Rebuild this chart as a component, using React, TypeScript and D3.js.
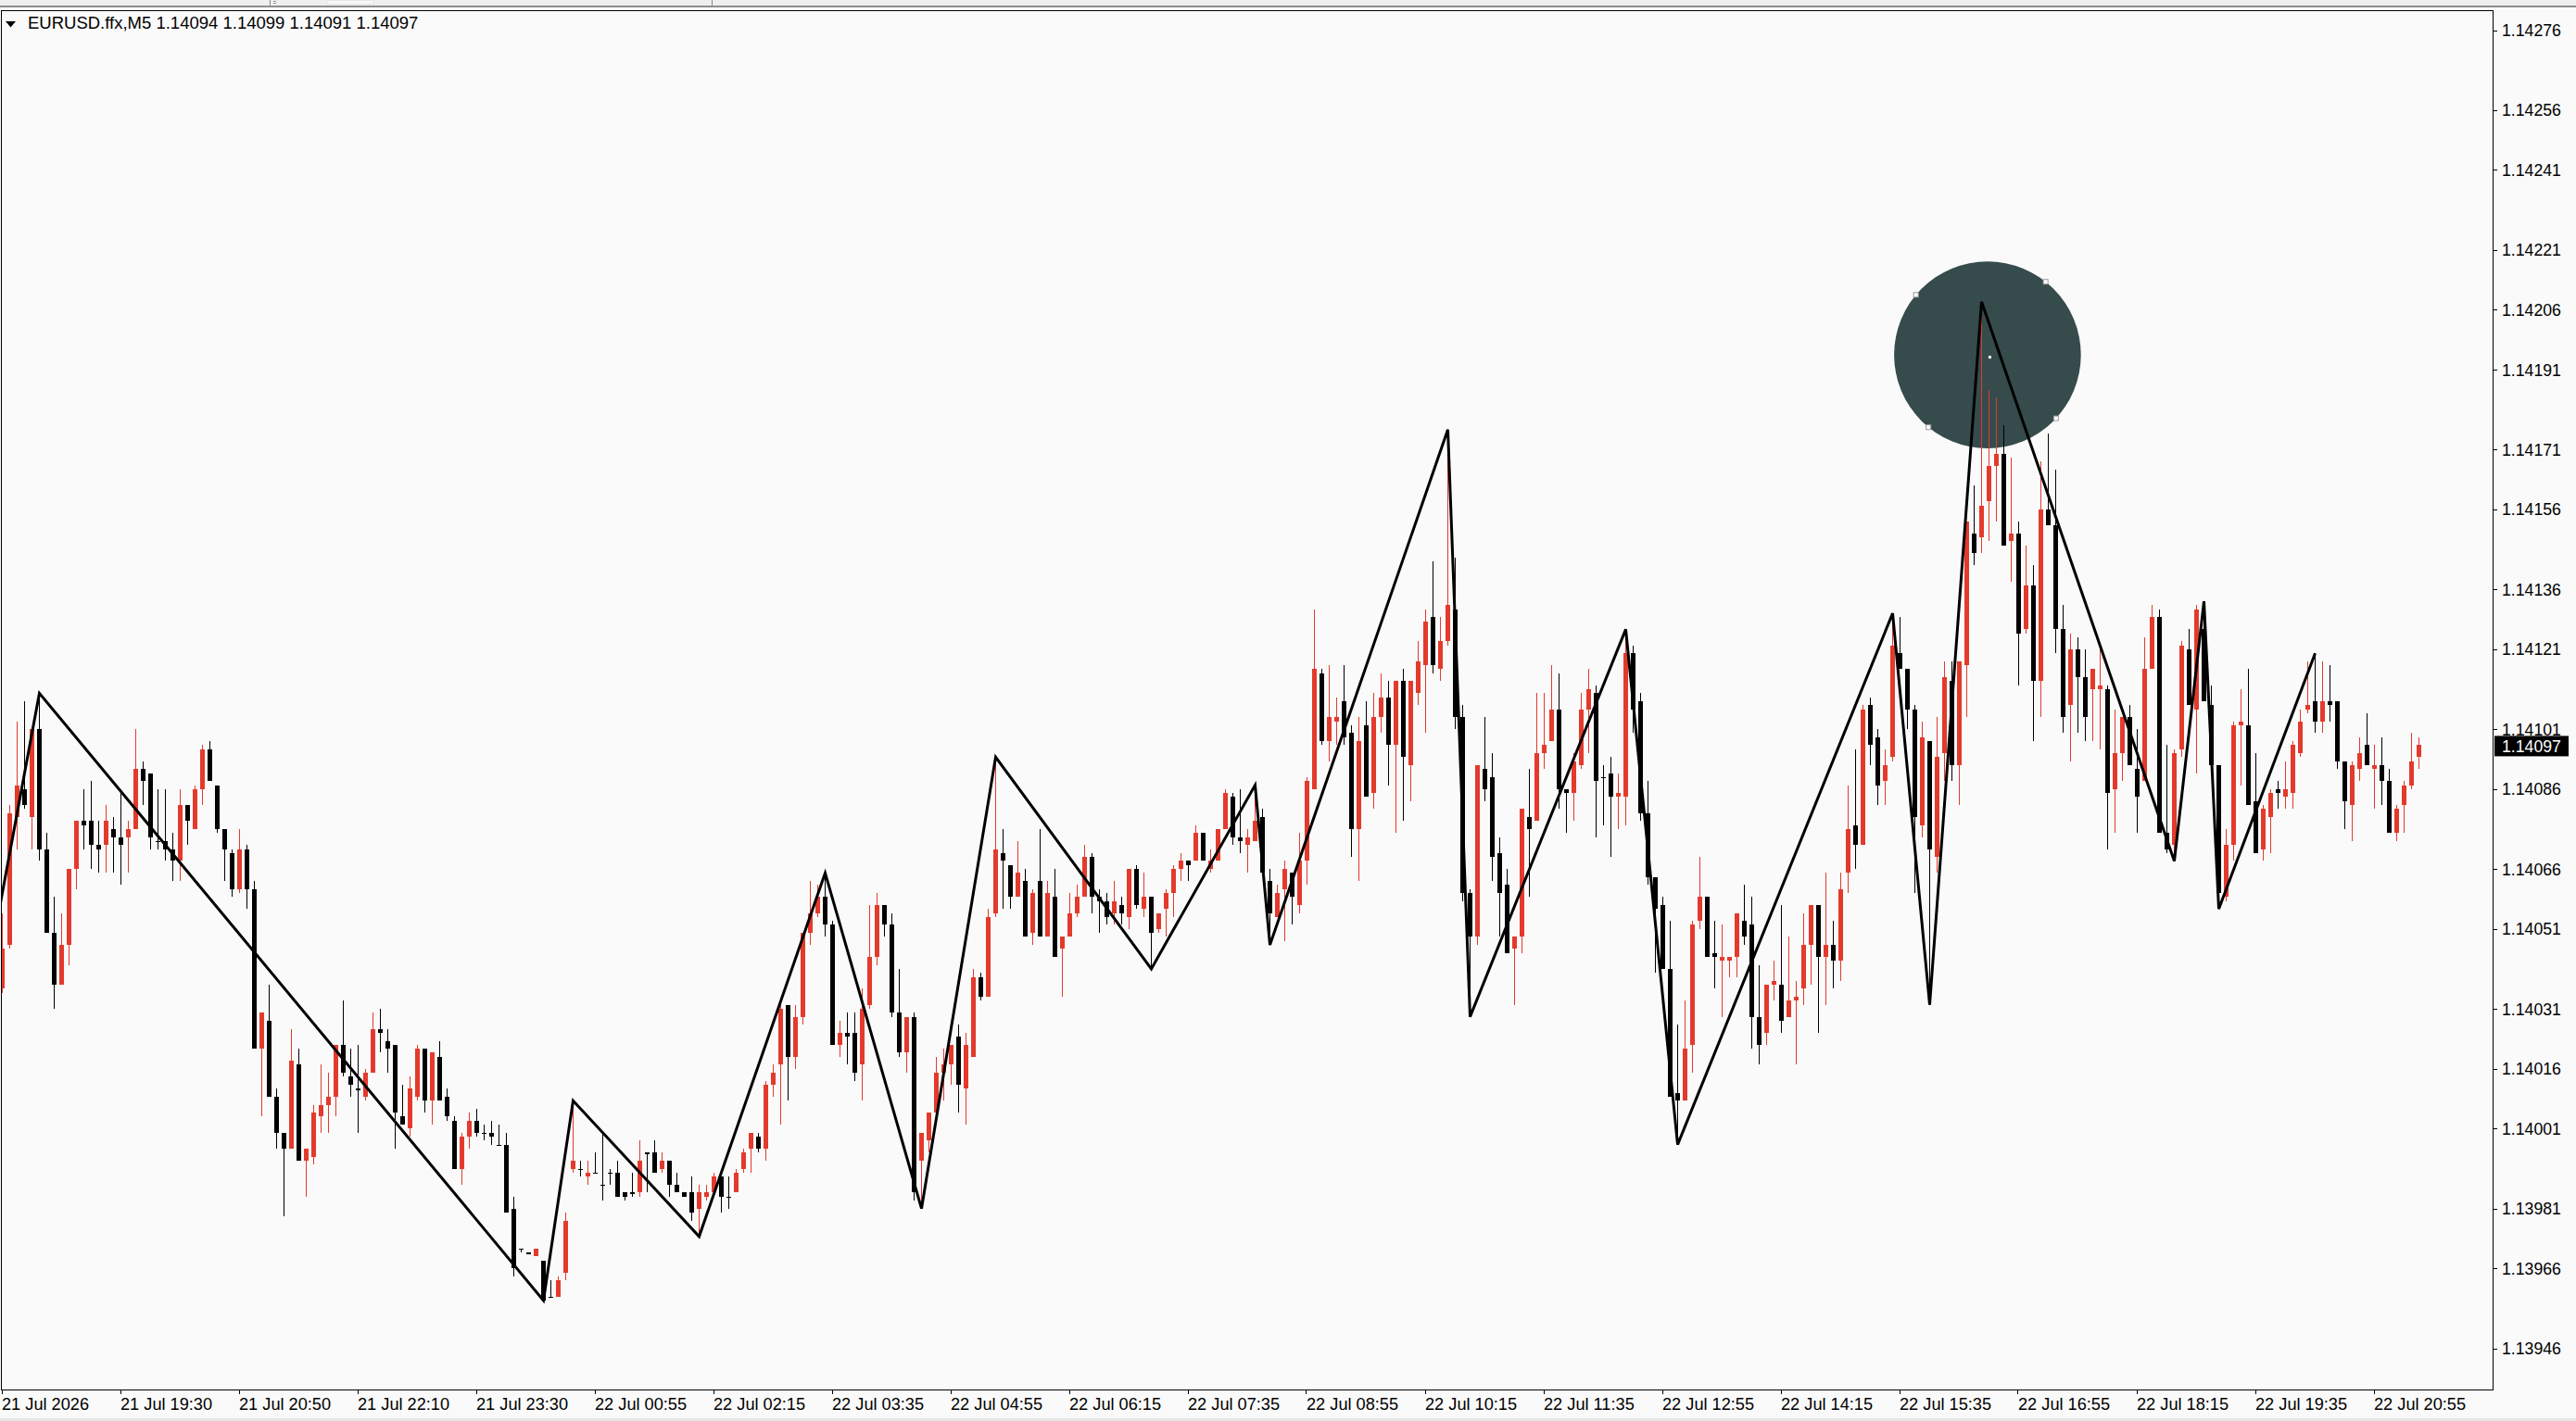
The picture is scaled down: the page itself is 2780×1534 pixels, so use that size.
import React, { useEffect } from "react";
import * as d3 from "d3";

// ---------- DATA ----------
const SYMBOL_TITLE = "EURUSD.ffx,M5  1.14094 1.14099 1.14091 1.14097";
const LAST_PRICE = 1.14097;

const OPEN = [
  1.14036,1.14047,1.14079,1.14086,1.14079,1.14101,1.14071,1.14050,1.14037,1.14047,
  1.14066,1.14078,1.14078,1.14072,1.14072,1.14076,1.14074,1.14074,1.14076,1.14091,
  1.14090,1.14073,1.14073,1.14071,1.14068,1.14082,1.14076,1.14086,1.14096,1.14087,
  1.14076,1.14070,1.14061,1.14071,1.14061,1.14021,1.14028,1.14009,1.14000,1.13996,
  1.14017,1.13993,1.13994,1.14004,1.14007,1.14009,1.14022,1.14014,1.14011,1.14009,
  1.14015,1.14026,1.14023,1.14022,1.14004,1.14001,1.14009,1.14021,1.14008,1.14019,
  1.14009,1.14003,1.13991,1.13999,1.14003,1.14000,1.14000,1.13997,1.13997,1.13981,
  1.13971,1.13970,1.13969,1.13968,1.13959,1.13959,1.13965,1.13991,1.13991,1.13989,
  1.13990,1.13987,1.13990,1.13990,1.13985,1.13985,1.13985,1.13995,1.13995,1.13991,
  1.13993,1.13987,1.13985,1.13985,1.13981,1.13984,1.13985,1.13989,1.13984,1.13985,
  1.13991,1.13996,1.13999,1.13996,1.14012,1.14017,1.14032,1.14019,1.14029,1.14050,
  1.14055,1.14059,1.14052,1.14022,1.14025,1.14025,1.14017,1.14032,1.14044,1.14057,
  1.14052,1.14030,1.14020,1.14029,1.13993,1.13998,1.14005,1.14015,1.14017,1.14024,
  1.14011,1.14019,1.14039,1.14034,1.14055,1.14070,1.14067,1.14059,1.14063,1.14050,
  1.14063,1.14049,1.14059,1.14046,1.14049,1.14055,1.14059,1.14069,1.14059,1.14058,
  1.14055,1.14057,1.14054,1.14066,1.14056,1.14059,1.14051,1.14056,1.14060,1.14066,
  1.14068,1.14068,1.14075,1.14066,1.14068,1.14076,1.14084,1.14074,1.14072,1.14073,
  1.14079,1.14063,1.14054,1.14061,1.14065,1.14057,1.14068,1.14086,1.14115,1.14098,
  1.14103,1.14108,1.14100,1.14076,1.14102,1.14085,1.14104,1.14109,1.14097,1.14113,
  1.14092,1.14110,1.14117,1.14129,1.14116,1.14123,1.14131,1.14104,1.14060,1.14049,
  1.14091,1.14089,1.14070,1.14062,1.14046,1.14049,1.14079,1.14078,1.14095,1.14098,
  1.14106,1.14086,1.14085,1.14092,1.14106,1.14110,1.14089,1.14090,1.14084,1.14084,
  1.14120,1.14108,1.14080,1.14064,1.14057,1.14041,1.14010,1.14008,1.14022,1.14053,
  1.14059,1.14045,1.14043,1.14043,1.14044,1.14053,1.14052,1.14029,1.14025,1.14037,
  1.14037,1.14029,1.14033,1.14036,1.14047,1.14057,1.14044,1.14047,1.14043,1.14065,
  1.14077,1.14072,1.14107,1.14099,1.14088,1.14094,1.14120,1.14116,1.14106,1.14077,
  1.14098,1.14069,1.14095,1.14113,1.14092,1.14117,1.14150,1.14149,1.14158,1.14167,
  1.14170,1.14148,1.14150,1.14126,1.14137,1.14113,1.14156,1.14152,1.14126,1.14107,
  1.14121,1.14114,1.14111,1.14111,1.14111,1.14086,1.14095,1.14104,1.14091,1.14088,
  1.14116,1.14129,1.14075,1.14072,1.14096,1.14121,1.14106,1.14126,1.14107,1.14092,
  1.14059,1.14072,1.14102,1.14102,1.14083,1.14071,1.14079,1.14086,1.14084,1.14085,
  1.14095,1.14106,1.14108,1.14103,1.14108,1.14108,1.14093,1.14082,1.14091,1.14097,
  1.14091,1.14092,1.14088,1.14075,1.14082,1.14087,1.14094,
];

const HIGH = [
  1.14055,1.14082,1.14103,1.14108,1.14101,1.14110,1.14075,1.14059,1.14055,1.14066,
  1.14078,1.14086,1.14088,1.14078,1.14082,1.14079,1.14086,1.14078,1.14101,1.14093,
  1.14090,1.14086,1.14086,1.14075,1.14086,1.14082,1.14087,1.14097,1.14098,1.14087,
  1.14076,1.14071,1.14076,1.14072,1.14063,1.14030,1.14037,1.14011,1.14000,1.14026,
  1.14021,1.13996,1.14007,1.14017,1.14015,1.14022,1.14033,1.14021,1.14022,1.14016,
  1.14030,1.14031,1.14026,1.14022,1.14012,1.14014,1.14022,1.14021,1.14020,1.14023,
  1.14011,1.14004,1.14000,1.14005,1.14006,1.14002,1.14003,1.14002,1.14000,1.13984,
  1.13971,1.13970,1.13971,1.13968,1.13963,1.13964,1.13980,1.14008,1.13993,1.13993,
  1.13995,1.14000,1.13991,1.13993,1.13985,1.13990,1.13998,1.13995,1.13998,1.13995,
  1.13993,1.13990,1.13985,1.13989,1.13987,1.13987,1.13990,1.13989,1.13989,1.13991,
  1.13996,1.14000,1.14000,1.14013,1.14017,1.14032,1.14032,1.14032,1.14050,1.14063,
  1.14062,1.14065,1.14053,1.14028,1.14030,1.14030,1.14036,1.14057,1.14060,1.14057,
  1.14055,1.14041,1.14029,1.14030,1.14000,1.14005,1.14019,1.14021,1.14022,1.14027,
  1.14025,1.14041,1.14040,1.14056,1.14094,1.14076,1.14067,1.14073,1.14066,1.14061,
  1.14076,1.14063,1.14066,1.14049,1.14060,1.14062,1.14072,1.14070,1.14061,1.14060,
  1.14063,1.14059,1.14066,1.14067,1.14065,1.14059,1.14055,1.14061,1.14067,1.14070,
  1.14068,1.14077,1.14075,1.14071,1.14076,1.14086,1.14085,1.14086,1.14076,1.14087,
  1.14081,1.14066,1.14062,1.14068,1.14065,1.14075,1.14089,1.14131,1.14116,1.14117,
  1.14109,1.14117,1.14102,1.14104,1.14108,1.14110,1.14115,1.14113,1.14113,1.14116,
  1.14113,1.14123,1.14131,1.14143,1.14129,1.14176,1.14144,1.14107,1.14061,1.14092,
  1.14104,1.14095,1.14074,1.14066,1.14049,1.14081,1.14091,1.14110,1.14110,1.14117,
  1.14115,1.14086,1.14095,1.14110,1.14116,1.14112,1.14092,1.14094,1.14090,1.14126,
  1.14122,1.14110,1.14088,1.14064,1.14059,1.14053,1.14027,1.14033,1.14053,1.14069,
  1.14059,1.14053,1.14052,1.14044,1.14055,1.14062,1.14059,1.14042,1.14037,1.14043,
  1.14057,1.14049,1.14038,1.14055,1.14057,1.14057,1.14065,1.14053,1.14065,1.14087,
  1.14096,1.14107,1.14109,1.14101,1.14096,1.14130,1.14129,1.14116,1.14107,1.14103,
  1.14098,1.14104,1.14118,1.14118,1.14118,1.14153,1.14162,1.14208,1.14186,1.14184,
  1.14177,1.14169,1.14153,1.14147,1.14142,1.14168,1.14175,1.14166,1.14132,1.14125,
  1.14124,1.14121,1.14116,1.14121,1.14112,1.14106,1.14104,1.14107,1.14101,1.14124,
  1.14132,1.14131,1.14097,1.14096,1.14123,1.14126,1.14132,1.14133,1.14112,1.14092,
  1.14076,1.14103,1.14111,1.14116,1.14095,1.14082,1.14086,1.14088,1.14093,1.14098,
  1.14106,1.14118,1.14120,1.14118,1.14117,1.14108,1.14093,1.14093,1.14099,1.14105,
  1.14097,1.14099,1.14091,1.14082,1.14088,1.14100,1.14099,
];

const LOW = [
  1.14035,1.14046,1.14071,1.14081,1.14071,1.14068,1.14050,1.14031,1.14037,1.14042,
  1.14061,1.14071,1.14066,1.14065,1.14065,1.14065,1.14062,1.14065,1.14076,1.14082,
  1.14071,1.14071,1.14068,1.14063,1.14063,1.14072,1.14076,1.14082,1.14088,1.14075,
  1.14063,1.14059,1.14060,1.14056,1.14021,1.14004,1.14009,1.13996,1.13979,1.13996,
  1.13993,1.13984,1.13992,1.14000,1.14000,1.14004,1.14014,1.14009,1.14000,1.14008,
  1.14015,1.14020,1.14015,1.13996,1.14002,1.13999,1.14008,1.14005,1.14002,1.14008,
  1.14003,1.13991,1.13987,1.13996,1.13999,1.13998,1.13997,1.13997,1.13980,1.13964,
  1.13970,1.13970,1.13969,1.13958,1.13959,1.13959,1.13963,1.13990,1.13989,1.13987,
  1.13990,1.13983,1.13987,1.13984,1.13983,1.13984,1.13984,1.13985,1.13990,1.13990,
  1.13984,1.13985,1.13984,1.13978,1.13974,1.13983,1.13985,1.13980,1.13981,1.13985,
  1.13990,1.13990,1.13995,1.13993,1.14009,1.14002,1.14008,1.14016,1.14027,1.14047,
  1.14054,1.14049,1.14022,1.14019,1.14017,1.14013,1.14008,1.14031,1.14042,1.14049,
  1.14029,1.14019,1.14015,1.13983,1.13981,1.13995,1.14005,1.14008,1.14012,1.14005,
  1.14002,1.14019,1.14033,1.14034,1.14054,1.14056,1.14056,1.14059,1.14049,1.14047,
  1.14049,1.14049,1.14044,1.14034,1.14049,1.14054,1.14059,1.14055,1.14050,1.14052,
  1.14052,1.14052,1.14051,1.14056,1.14054,1.14041,1.14050,1.14049,1.14054,1.14063,
  1.14063,1.14068,1.14068,1.14065,1.14068,1.14076,1.14072,1.14070,1.14065,1.14073,
  1.14065,1.14047,1.14054,1.14048,1.14052,1.14055,1.14062,1.14086,1.14097,1.14093,
  1.14097,1.14097,1.14069,1.14063,1.14084,1.14081,1.14100,1.14087,1.14075,1.14078,
  1.14083,1.14107,1.14100,1.14115,1.14113,1.14122,1.14101,1.14058,1.14029,1.14047,
  1.14083,1.14063,1.14049,1.14045,1.14032,1.14045,1.14059,1.14078,1.14091,1.14098,
  1.14081,1.14075,1.14078,1.14091,1.14095,1.14074,1.14077,1.14069,1.14076,1.14077,
  1.14100,1.14078,1.14062,1.14040,1.14041,1.14009,1.13997,1.14008,1.14015,1.14051,
  1.14044,1.14036,1.14029,1.14039,1.14039,1.14047,1.14021,1.14017,1.14022,1.14033,
  1.14025,1.14029,1.14017,1.14032,1.14037,1.14025,1.14032,1.14036,1.14038,1.14060,
  1.14066,1.14072,1.14092,1.14082,1.14082,1.14093,1.14116,1.14101,1.14060,1.14074,
  1.14032,1.14065,1.14088,1.14088,1.14082,1.14104,1.14142,1.14145,1.14148,1.14153,
  1.14147,1.14138,1.14112,1.14125,1.14098,1.14104,1.14152,1.14120,1.14100,1.14093,
  1.14100,1.14098,1.14098,1.14096,1.14071,1.14075,1.14088,1.14092,1.14075,1.14088,
  1.14116,1.14075,1.14070,1.14068,1.14094,1.14107,1.14090,1.14108,1.14092,1.14056,
  1.14058,1.14068,1.14087,1.14082,1.14070,1.14068,1.14070,1.14081,1.14081,1.14081,
  1.14094,1.14105,1.14100,1.14100,1.14103,1.14091,1.14076,1.14073,1.14088,1.14092,
  1.14081,1.14082,1.14075,1.14073,1.14075,1.14086,1.14091,
];

const CLOSE = [
  1.14046,1.14080,1.14087,1.14082,1.14101,1.14071,1.14050,1.14037,1.14047,1.14066,
  1.14078,1.14077,1.14072,1.14071,1.14078,1.14074,1.14072,1.14076,1.14091,1.14088,
  1.14074,1.14073,1.14071,1.14068,1.14082,1.14078,1.14086,1.14096,1.14088,1.14076,
  1.14071,1.14061,1.14071,1.14061,1.14021,1.14030,1.14009,1.14000,1.13996,1.14018,
  1.13993,1.13996,1.14005,1.14007,1.14009,1.14022,1.14015,1.14012,1.14011,1.14015,
  1.14026,1.14025,1.14021,1.14005,1.14002,1.14011,1.14021,1.14008,1.14020,1.14008,
  1.14004,1.13991,1.13999,1.14003,1.14000,1.14000,1.13999,1.13997,1.13980,1.13966,
  1.13971,1.13970,1.13971,1.13958,1.13959,1.13963,1.13978,1.13993,1.13991,1.13990,
  1.13990,1.13987,1.13990,1.13984,1.13984,1.13985,1.13993,1.13995,1.13990,1.13993,
  1.13987,1.13985,1.13984,1.13980,1.13985,1.13985,1.13989,1.13984,1.13984,1.13990,
  1.13995,1.14000,1.13996,1.14012,1.14015,1.14031,1.14019,1.14029,1.14050,1.14055,
  1.14059,1.14052,1.14022,1.14025,1.14024,1.14015,1.14031,1.14044,1.14057,1.14052,
  1.14030,1.14020,1.14029,1.13985,1.14000,1.14005,1.14015,1.14017,1.14022,1.14012,
  1.14022,1.14039,1.14034,1.14054,1.14071,1.14068,1.14059,1.14065,1.14049,1.14060,
  1.14049,1.14060,1.14044,1.14049,1.14055,1.14059,1.14069,1.14059,1.14058,1.14054,
  1.14058,1.14055,1.14066,1.14057,1.14059,1.14050,1.14055,1.14060,1.14066,1.14068,
  1.14067,1.14075,1.14068,1.14068,1.14076,1.14085,1.14074,1.14073,1.14074,1.14078,
  1.14065,1.14055,1.14060,1.14066,1.14059,1.14068,1.14088,1.14116,1.14098,1.14104,
  1.14104,1.14099,1.14076,1.14098,1.14084,1.14104,1.14109,1.14097,1.14113,1.14094,
  1.14113,1.14118,1.14128,1.14117,1.14123,1.14132,1.14104,1.14060,1.14049,1.14092,
  1.14086,1.14069,1.14060,1.14045,1.14049,1.14081,1.14076,1.14095,1.14097,1.14106,
  1.14086,1.14085,1.14093,1.14106,1.14111,1.14088,1.14089,1.14084,1.14085,1.14120,
  1.14106,1.14080,1.14064,1.14056,1.14041,1.14009,1.14008,1.14021,1.14052,1.14059,
  1.14044,1.14044,1.14044,1.14044,1.14055,1.14049,1.14029,1.14022,1.14037,1.14038,
  1.14028,1.14033,1.14034,1.14047,1.14057,1.14044,1.14047,1.14043,1.14061,1.14076,
  1.14072,1.14106,1.14097,1.14087,1.14092,1.14122,1.14116,1.14106,1.14079,1.14099,
  1.14071,1.14094,1.14114,1.14092,1.14118,1.14153,1.14145,1.14157,1.14167,1.14170,
  1.14147,1.14150,1.14125,1.14137,1.14113,1.14156,1.14152,1.14126,1.14104,1.14121,
  1.14114,1.14104,1.14116,1.14112,1.14085,1.14095,1.14104,1.14092,1.14084,1.14116,
  1.14129,1.14075,1.14071,1.14095,1.14122,1.14107,1.14131,1.14108,1.14092,1.14060,
  1.14072,1.14102,1.14103,1.14082,1.14070,1.14081,1.14085,1.14085,1.14086,1.14097,
  1.14103,1.14107,1.14103,1.14108,1.14107,1.14093,1.14083,1.14092,1.14095,1.14092,
  1.14092,1.14088,1.14075,1.14081,1.14087,1.14093,1.14097,
];

// ZigZag vertices (bar index, price)
const ZZ_BARS = [-3, 5, 73, 77, 94, 111, 124, 134, 155, 169, 171, 195, 198, 219, 226, 255, 260, 267, 293, 297, 299, 312];
const ZZ_PRICES = [
  1.14030, 1.14110, 1.13958, 1.14008, 1.13974, 1.14065, 1.13981, 1.14094, 1.14041, 1.14087, 1.14047,
  1.14176, 1.14029, 1.14126, 1.13997, 1.14130, 1.14032, 1.14208, 1.14068, 1.14133, 1.14056, 1.14120,
];

// Ellipse object (centre in bar/price, handles as angles in degrees)
const CIRCLE_BAR = 267.8;
const CIRCLE_PRICE = 1.141947;
const CIRCLE_RADIUS_BARS = 12.6;
const CIRCLE_HANDLE_ANGLES = [-140, -51.5, 42.8, 129.2];

const PRICE_TICKS = [
  1.14276, 1.14256, 1.14241, 1.14221, 1.14206, 1.14191, 1.14171, 1.14156, 1.14136, 1.14121,
  1.14101, 1.14086, 1.14066, 1.14051, 1.14031, 1.14016, 1.14001, 1.13981, 1.13966, 1.13946,
];

const TIME_TICK_BARS = [0, 16, 32, 48, 64, 80, 96, 112, 128, 144, 160, 176, 192, 208, 224, 240, 256, 272, 288, 304, 320];
const TIME_LABELS = [
  "21 Jul 2026", "21 Jul 19:30", "21 Jul 20:50", "21 Jul 22:10", "21 Jul 23:30",
  "22 Jul 00:55", "22 Jul 02:15", "22 Jul 03:35", "22 Jul 04:55", "22 Jul 06:15",
  "22 Jul 07:35", "22 Jul 08:55", "22 Jul 10:15", "22 Jul 11:35", "22 Jul 12:55",
  "22 Jul 14:15", "22 Jul 15:35", "22 Jul 16:55", "22 Jul 18:15", "22 Jul 19:35",
  "22 Jul 20:55",
];

// ---------- LAYOUT / STYLE ----------
const W = 2780;
const H = 1534;
const PLOT_LEFT = 1;
const PLOT_TOP = 11;
const PLOT_RIGHT = 2690;
const PLOT_BOTTOM = 1500;
const BG = "#fafafa";
const UP = "#e33a2c";
const DOWN = "#000000";
const FONT = "'Liberation Sans', Arial, sans-serif";

export default function App() {
  useEffect(() => {
    document.body.style.margin = "0";
    document.body.style.background = BG;
  }, []);

  const x = d3.scaleLinear().domain([0, 326]).range([2.5, 2610.5]);
  const y = d3.scaleLinear().domain([1.13946, 1.14276]).range([1455.6, 32.5]);

  const bars = d3.range(OPEN.length).map((i) => ({
    i,
    o: OPEN[i],
    h: HIGH[i],
    l: LOW[i],
    c: CLOSE[i],
  }));

  const zz = ZZ_BARS.map((b, k) => ({ b, p: ZZ_PRICES[k] }));
  const zzLine = d3
    .line<{ b: number; p: number }>()
    .x((d) => x(d.b))
    .y((d) => y(d.p));

  const cx = x(CIRCLE_BAR);
  const cy = y(CIRCLE_PRICE);
  const r = x(CIRCLE_RADIUS_BARS) - x(0);

  const lastY = y(LAST_PRICE);

  return (
    <svg
      width={W}
      height={H}
      viewBox={`0 0 ${W} ${H}`}
      style={{ display: "block", position: "absolute", left: 0, top: 0 }}
    >
      <defs>
        <clipPath id="plotClip">
          <rect x={PLOT_LEFT + 1} y={PLOT_TOP + 1} width={PLOT_RIGHT - PLOT_LEFT - 1} height={PLOT_BOTTOM - PLOT_TOP - 1} />
        </clipPath>
      </defs>
      <rect x={0} y={0} width={W} height={H} fill={BG} />
      {/* top strip */}
      <g shapeRendering="crispEdges">
        <rect x={0} y={0} width={W} height={6} fill="#efefef" />
        <rect x={0} y={6} width={W} height={2} fill="#8e8e8e" />
        <rect x={291} y={0} width={1} height={6} fill="#8a8a8a" />
        <rect x={295} y={1} width={3} height={1} fill="#9a9a9a" />
        <rect x={295} y={3} width={3} height={1} fill="#9a9a9a" />
        <rect x={353} y={0} width={50} height={4} fill="#f8f8f8" stroke="#d8d8d8" strokeWidth={0.5} />
        <rect x={768} y={0} width={1} height={6} fill="#8a8a8a" />
      </g>
      {/* bottom strip */}
      <rect x={0} y={1531} width={W} height={3} fill="#e6e6e6" />

      <g clipPath="url(#plotClip)">
        <circle cx={cx} cy={cy} r={r} fill="#354b4c" />
        <g shapeRendering="crispEdges">
          {bars.map((d) => {
            const px = Math.round(x(d.i) - 0.5);
            const col = d.c > d.o ? UP : DOWN;
            const top = y(Math.max(d.o, d.c));
            const bot = y(Math.min(d.o, d.c));
            const bh = Math.max(1.5, bot - top);
            return (
              <g key={d.i}>
                <rect x={px} y={y(d.h)} width={1} height={Math.max(1, y(d.l) - y(d.h))} fill={col} />
                <rect x={px - 2} y={top} width={5} height={bh} fill={col} />
              </g>
            );
          })}
        </g>
        <path d={zzLine(zz) || ""} fill="none" stroke="#000" strokeWidth={3} strokeLinejoin="miter" />
        {CIRCLE_HANDLE_ANGLES.map((a, k) => {
          const rad = (a * Math.PI) / 180;
          return (
            <rect
              key={k}
              x={cx + r * Math.cos(rad) - 2.5}
              y={cy + r * Math.sin(rad) - 2.5}
              width={5}
              height={5}
              fill="#ffffff"
              stroke="#9a9a9a"
              strokeWidth={1}
            />
          );
        })}
        <rect x={cx + 1} y={cy + 1} width={3} height={3} fill="#ffffff" />
      </g>

      {/* frame */}
      <rect
        x={PLOT_LEFT + 0.5}
        y={PLOT_TOP + 0.5}
        width={PLOT_RIGHT - PLOT_LEFT}
        height={PLOT_BOTTOM - PLOT_TOP}
        fill="none"
        stroke="#000"
        strokeWidth={1}
        shapeRendering="crispEdges"
      />

      {/* price axis */}
      <g fontFamily={FONT} fontSize={17.7} fill="#000">
        {PRICE_TICKS.map((p) => (
          <g key={p}>
            <line x1={PLOT_RIGHT} x2={PLOT_RIGHT + 5} y1={Math.round(y(p)) + 0.5} y2={Math.round(y(p)) + 0.5} stroke="#000" shapeRendering="crispEdges" />
            <text x={2700} y={y(p) + 6.5}>{d3.format(".5f")(p)}</text>
          </g>
        ))}
        <rect x={2692} y={lastY - 10} width={80} height={22} fill="#000" />
        <text x={2700} y={lastY + 7.5} fill="#ffffff">{d3.format(".5f")(LAST_PRICE)}</text>
      </g>

      {/* time axis */}
      <g fontFamily={FONT} fontSize={18.2} fill="#000">
        {TIME_TICK_BARS.map((b, k) => (
          <g key={b}>
            <line x1={Math.round(x(b)) - 0.5} x2={Math.round(x(b)) - 0.5} y1={PLOT_BOTTOM} y2={PLOT_BOTTOM + 5} stroke="#000" shapeRendering="crispEdges" />
            <text x={Math.max(2, x(b) - 0.5)} y={1522}>{TIME_LABELS[k]}</text>
          </g>
        ))}
      </g>

      {/* title */}
      <path d="M6,23 L17,23 L11.5,29.5 Z" fill="#000" />
      <text x={30} y={31} fontFamily={FONT} fontSize={18.5} fill="#000">{SYMBOL_TITLE}</text>
    </svg>
  );
}
